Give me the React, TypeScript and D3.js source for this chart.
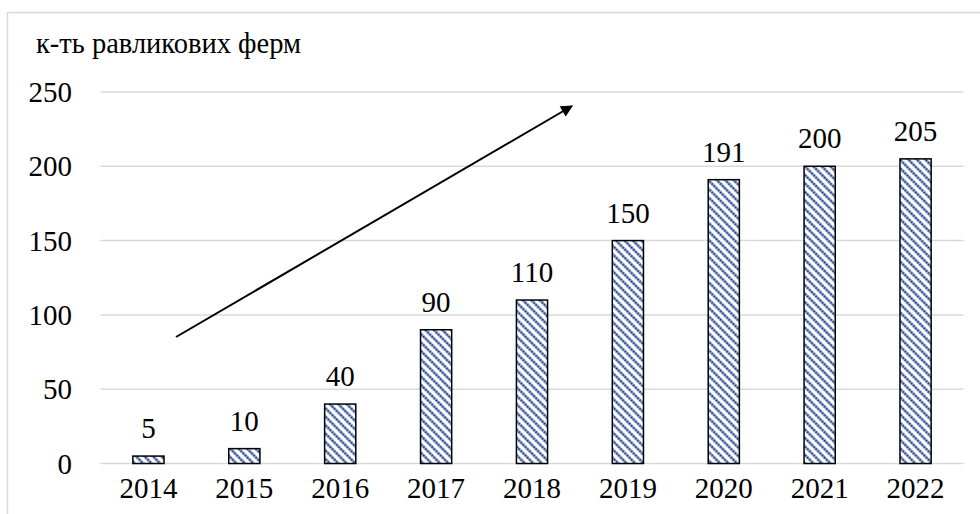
import React from "react";
import * as d3 from "d3";

const years = ["2014", "2015", "2016", "2017", "2018", "2019", "2020", "2021", "2022"];
const farms = [5, 10, 40, 90, 110, 150, 191, 200, 205];
const yTicks = [0, 50, 100, 150, 200, 250];
const yTitle = "к-ть равликових ферм";

export default function App() {
  const W = 980, H = 514;
  const left = 100.5, right = 963.5, top = 92, bottom = 463.5;
  const x = d3.scaleBand<string>().domain(years).range([left, right]).paddingInner(0.675).paddingOuter(0.3375);
  const y = d3.scaleLinear().domain([0, 250]).range([bottom, top]);
  const font = '"Times New Roman", Times, "Liberation Serif", "Noto Serif", "DejaVu Serif", Georgia, serif';
  const ts = { fontFamily: font };
  const arrow = { x1: 176, y1: 337, x2: 577, y2: 103 };
  return (
    <svg width={W} height={H} style={{ position: "absolute", left: 0, top: 0, background: "#fff" }}>
      <defs>
        <pattern id="hatch" width="6" height="6" patternUnits="userSpaceOnUse" patternTransform="rotate(-45)">
          <rect width="6" height="6" fill="#ffffff" />
          <line x1="1.5" y1="0" x2="1.5" y2="6" stroke="#8aa2d2" strokeWidth="2.6" />
          <line x1="1.5" y1="0" x2="1.5" y2="6" stroke="#0d2266" strokeWidth="1.8" strokeDasharray="1.5 1.5" />
        </pattern>
        <marker id="ah" viewBox="0 0 10 10" refX="9" refY="5" markerWidth="7" markerHeight="6" orient="auto" markerUnits="strokeWidth">
          <path d="M0,0 L10,5 L0,10 z" fill="#000" />
        </marker>
      </defs>
      <rect x={7.5} y={12.5} width={1000} height={600} fill="none" stroke="#d9d9d9" strokeWidth={1.5} />
      <text x={36} y={53} style={ts} fontSize={28.5} fill="#000">{yTitle}</text>
      {yTicks.map((t) => (
        <g key={t}>
          <line x1={left} x2={right} y1={y(t)} y2={y(t)} stroke="#d9d9d9" strokeWidth={1.5} />
          <text x={72} y={y(t)} dy="0.35em" textAnchor="end" style={ts} fontSize={29} fill="#000">{t}</text>
        </g>
      ))}
      {years.map((yr, i) => (
        <g key={yr}>
          <rect x={x(yr)!} y={y(farms[i])} width={x.bandwidth()} height={bottom - y(farms[i])} fill="url(#hatch)" stroke="#000" strokeWidth={1.5} />
          <text x={x(yr)! + x.bandwidth() / 2} y={y(farms[i]) - 18} textAnchor="middle" style={ts} fontSize={29} fill="#000">{farms[i]}</text>
          <text x={x(yr)! + x.bandwidth() / 2} y={498} textAnchor="middle" style={ts} fontSize={29} fill="#000">{yr}</text>
        </g>
      ))}
      <line x1={arrow.x1} y1={arrow.y1} x2={arrow.x2 - 5} y2={arrow.y2 + 3} stroke="#000" strokeWidth={2} markerEnd="url(#ah)" />
    </svg>
  );
}
